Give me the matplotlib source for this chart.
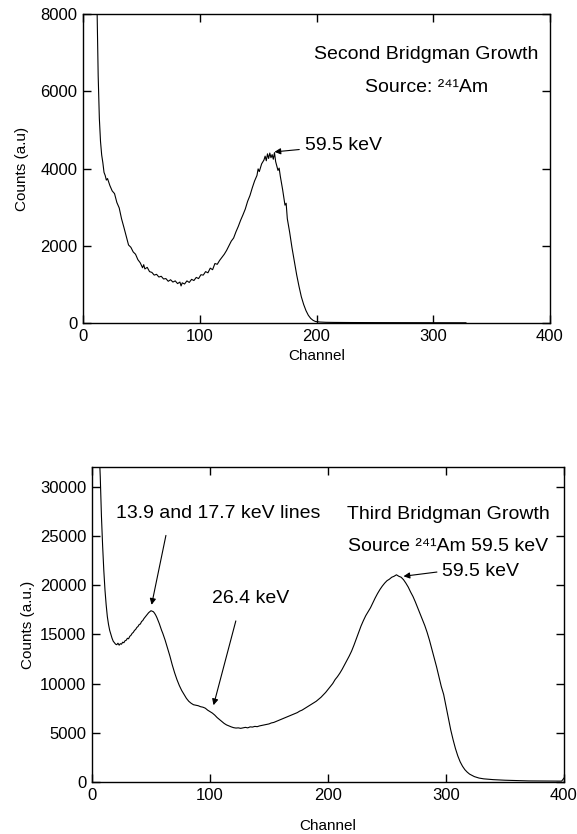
import matplotlib
matplotlib.use("Agg")
from matplotlib import pyplot as plt

plt.rcParams['font.family'] = ['Liberation Sans', 'DejaVu Sans']

# second growth spectrum (channel, counts)
top_ch = [11, 12, 13, 14, 15, 16, 17, 18, 19, 20, 21, 23, 25, 27, 29, 31, 33, 35,
          37, 39, 41, 43, 45, 47, 49, 51, 52, 53, 55, 57, 59, 61, 63, 65, 67, 69,
          71, 73, 75, 77, 79, 81, 83, 84, 85, 87, 89, 91, 93, 95, 97, 99, 101,
          103, 105, 107, 109, 111, 113, 115, 117, 119, 121, 123, 125, 127, 129,
          131, 133, 135, 137, 139, 141, 143, 145, 147, 149, 150, 151, 153, 155,
          156, 157, 158, 159, 160, 161, 162, 163, 164, 165, 167, 168, 169, 171,
          173, 174, 175, 177, 179, 181, 183, 185, 187, 189, 191, 193, 195, 197,
          199, 203, 208, 215, 230, 250, 270, 290, 310, 328]
top_counts = [9500, 8200, 6400, 5300, 4700, 4350, 4150, 3900, 3820, 3700, 3740,
              3560, 3420, 3350, 3120, 2980, 2700, 2480, 2250, 2020, 1960, 1840,
              1780, 1640, 1560, 1430, 1510, 1400, 1440, 1330, 1310, 1240, 1260,
              1190, 1210, 1140, 1150, 1080, 1120, 1060, 1090, 1020, 1060, 960,
              1040, 1010, 1090, 1050, 1130, 1100, 1180, 1150, 1250, 1240, 1330,
              1300, 1420, 1380, 1540, 1520, 1620, 1700, 1780, 1880, 2000, 2120,
              2200, 2360, 2500, 2660, 2800, 2950, 3150, 3300, 3500, 3680, 3820,
              3990, 3920, 4120, 4220, 4320, 4200, 4380, 4260, 4400, 4280, 4360,
              4240, 4410, 4180, 3950, 4010, 3800, 3450, 3050, 3100, 2700, 2350,
              1950, 1600, 1250, 950, 680, 480, 320, 200, 120, 70, 40, 25, 18, 15,
              12, 10, 9, 8, 7, 6]

# third growth spectrum (channel, counts)
bot_ch = [6, 7, 8, 9, 10, 11, 12, 13, 14, 15, 16, 17, 18, 19, 20, 21, 22, 23, 24,
          25, 26, 27, 28, 29, 30, 31, 32, 33, 34, 35, 36, 37, 38, 39, 40, 41, 42,
          43, 44, 45, 46, 47, 48, 49, 50, 51, 52, 53, 54, 55, 56, 57, 58, 59, 60,
          62, 64, 66, 68, 70, 72, 74, 76, 78, 80, 82, 84, 86, 88, 90, 92, 94, 96,
          98, 100, 102, 104, 106, 108, 110, 112, 114, 116, 118, 120, 122, 124,
          126, 128, 130, 132, 134, 136, 138, 140, 142, 144, 146, 148, 150, 152,
          154, 156, 158, 160, 162, 164, 166, 168, 170, 172, 174, 176, 178, 180,
          182, 184, 186, 188, 190, 192, 194, 196, 198, 200, 202, 204, 206, 208,
          210, 212, 214, 216, 218, 220, 222, 224, 226, 228, 230, 232, 234, 236,
          238, 240, 242, 244, 246, 248, 250, 252, 254, 256, 258, 260, 262, 264,
          266, 268, 270, 272, 274, 276, 278, 280, 282, 284, 286, 288, 290, 292,
          294, 296, 298, 300, 302, 304, 306, 308, 310, 312, 314, 316, 318, 320,
          324, 328, 332, 340, 350, 360, 370, 380, 390, 398, 400]
bot_counts = [34000, 31000, 27000, 24000, 21500, 19500, 18000, 16800, 16000,
              15400, 15000, 14600, 14300, 14150, 14000, 13950, 14100, 13900,
              14050, 14000, 14200, 14150, 14350, 14400, 14600, 14550, 14800,
              14900, 15100, 15200, 15400, 15500, 15700, 15800, 16000, 16050,
              16300, 16400, 16600, 16750, 16900, 17050, 17200, 17300, 17400,
              17350, 17300, 17150, 16950, 16700, 16400, 16100, 15750, 15400,
              15100, 14400, 13600, 12800, 11900, 11100, 10400, 9800, 9300, 8900,
              8500, 8200, 8000, 7850, 7800, 7750, 7650, 7600, 7500, 7300, 7150,
              7000, 6800, 6550, 6350, 6150, 5950, 5800, 5700, 5600, 5520, 5480,
              5500, 5450, 5500, 5550, 5500, 5600, 5580, 5650, 5620, 5700, 5750,
              5800, 5850, 5900, 6000, 6050, 6150, 6250, 6350, 6450, 6550, 6650,
              6750, 6850, 6950, 7050, 7200, 7300, 7450, 7600, 7750, 7900, 8050,
              8200, 8400, 8600, 8850, 9100, 9400, 9700, 10000, 10400, 10700,
              11050, 11450, 11900, 12350, 12800, 13300, 13900, 14550, 15200,
              15850, 16400, 16900, 17300, 17700, 18200, 18700, 19150, 19550,
              19900, 20200, 20450, 20600, 20800, 20900, 21050, 20900, 20800,
              20550, 20200, 19800, 19300, 18850, 18300, 17700, 17100, 16500,
              15900, 15200, 14400, 13500, 12600, 11700, 10700, 9700, 8900, 7700,
              6500, 5300, 4300, 3400, 2650, 2050, 1600, 1250, 1000, 800, 550,
              400, 320, 240, 180, 140, 110, 100, 90, 90, 400]

fig = plt.figure(figsize=(5.77, 8.34), dpi=100)


def style_axes(ax):
    ax.tick_params(direction='in', top=True, right=True, length=6, width=1,
                   labelsize=12, pad=4)
    for sp in ax.spines.values():
        sp.set_linewidth(1)


arrow = dict(arrowstyle='-|>', color='k', lw=0.8, mutation_scale=9, shrinkB=0)

# top panel
ax1 = fig.add_axes([83 / 577, 1 - 323 / 834, 467 / 577, 309 / 834])
ax1.plot(top_ch, top_counts, color='k', lw=0.8)
ax1.set_xlim(0, 400)
ax1.set_ylim(0, 8000)
ax1.set_xticks([0, 100, 200, 300, 400])
ax1.set_yticks([0, 2000, 4000, 6000, 8000])
style_axes(ax1)
ax1.set_xlabel('Channel', fontsize=11, labelpad=4)
ax1.set_ylabel('Counts (a.u)', fontsize=11, labelpad=8)
ax1.text(294, 6950, 'Second Bridgman Growth', fontsize=14, ha='center', va='center')
ax1.text(294, 6100, 'Source: \u00b2\u2074\u00b9Am', fontsize=14, ha='center', va='center')
ax1.annotate('59.5 keV', xy=(164, 4430), xytext=(190, 4600), fontsize=14,
             va='center', arrowprops=dict(arrow, shrinkA=2))

# bottom panel
ax2 = fig.add_axes([92 / 577, 1 - 782 / 834, 472 / 577, 315 / 834])
ax2.plot(bot_ch, bot_counts, color='k', lw=0.8)
ax2.set_xlim(0, 400)
ax2.set_ylim(0, 32000)
ax2.set_xticks([0, 100, 200, 300, 400])
ax2.set_yticks([0, 5000, 10000, 15000, 20000, 25000, 30000])
style_axes(ax2)
ax2.set_xlabel('Channel', fontsize=11, labelpad=12)
ax2.set_ylabel('Counts (a.u.)', fontsize=11, labelpad=4)
ax2.text(302, 27200, 'Third Bridgman Growth', fontsize=14, ha='center', va='center')
ax2.text(302, 23900, 'Source \u00b2\u2074\u00b9Am 59.5 keV', fontsize=14,
         ha='center', va='center')
ax2.annotate('13.9 and 17.7 keV lines', xy=(50.5, 18000), xytext=(20, 27300),
             fontsize=14, va='center',
             arrowprops=dict(arrow, shrinkA=8, relpos=(0.26, 0)))
ax2.annotate('26.4 keV', xy=(103, 7800), xytext=(102, 18600),
             fontsize=14, va='center',
             arrowprops=dict(arrow, shrinkA=8, relpos=(0.35, 0)))
ax2.annotate('59.5 keV', xy=(264, 20900), xytext=(297, 21400),
             fontsize=14, va='center',
             arrowprops=dict(arrow, shrinkA=2, relpos=(0, 0.5)))

fig.savefig('out.png', dpi=100)
